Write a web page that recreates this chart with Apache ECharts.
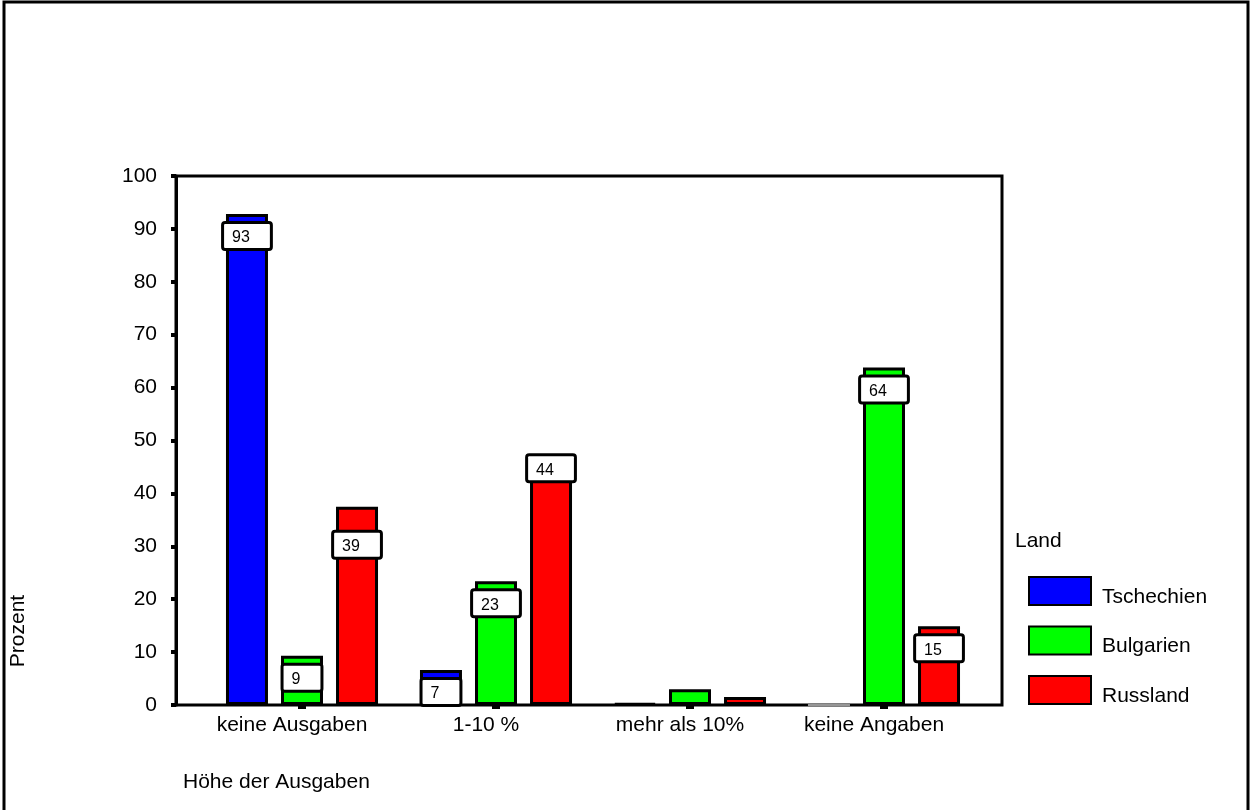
<!DOCTYPE html>
<html>
<head>
<meta charset="utf-8">
<script src="https://cdn.jsdelivr.net/npm/echarts@6/dist/echarts.min.js"></script>
<style>
  html, body { margin: 0; padding: 0; background: #fff; }
  #chart { width: 1250px; height: 810px; }
</style>
</head>
<body>
<div id="chart"></div>
<script>
// Kategorien (Höhe der Ausgaben)
const categories = ["keine Ausgaben", "1-10 %", "mehr als 10%", "keine Angaben"];

// Balkenhöhen in Prozent
const tschechien = [92.8, 6.6, 0.3, 0];
const bulgarien = [9.3, 23.4, 3.0, 63.8];
const russland = [37.5, 44, 1.5, 14.9];

// beschriftete Werte (null = keine Beschriftung)
const tschechienLabels = ["93", "7", null, null];
const bulgarienLabels = ["9", "23", null, "64"];
const russlandLabels = ["39", "44", null, "15"];

const yTicks = [0, 10, 20, 30, 40, 50, 60, 70, 80, 90, 100];

const FONT = 'Arial, "Liberation Sans", sans-serif';

// einzelne Beschriftungen sitzen im Original etwas versetzt
const labelNudge = { "Russland-0": [0, 16], "Russland-1": [0, -26] };

const chart = echarts.init(document.getElementById("chart"), null, { renderer: "canvas" });

const makeSeries = (name, color, values, labels) => ({
  name: name,
  type: "bar",
  xAxisIndex: 1,
  yAxisIndex: 1,
  barWidth: 42,
  barGap: "31%",
  itemStyle: { color: color, borderColor: "#000", borderWidth: 3 },
  data: values.map((v, i) => {
    const item = { value: v };
    if (labels[i]) {
      item.label = {
        show: true,
        formatter: labels[i],
        offset: labelNudge[name + "-" + i] || [0, 0],
      };
    }
    if (v === 0) {
      item.itemStyle = { borderColor: "#c8c8c8", borderWidth: 1 };
    }
    return item;
  }),
  label: {
    show: false,
    position: "insideTop",
    distance: 10,
    color: "#000",
    fontFamily: FONT,
    fontSize: 16,
    backgroundColor: "#fff",
    borderColor: "#000",
    borderWidth: 3,
    borderRadius: 1,
    padding: [6, 20, 2, 8],
  },
  emphasis: { disabled: true },
});

const option = {
  animation: false,
  backgroundColor: "#fff",
  textStyle: { fontFamily: FONT },
  grid: [
    {
      // Rahmen des Diagramms mit y-Achse
      left: 176, top: 176, width: 826, height: 529,
      show: true, borderColor: "#000", borderWidth: 3,
      backgroundColor: "transparent",
    },
    {
      // Balkenbereich
      left: 205, top: 176, width: 776, height: 529,
    },
  ],
  xAxis: [
    { gridIndex: 0, type: "value", show: false, min: 0, max: 1 },
    {
      gridIndex: 1,
      type: "category",
      data: categories,
      axisLine: { show: false },
      axisTick: {
        show: true, alignWithLabel: true, length: 4,
        lineStyle: { color: "#000", width: 8 },
      },
      axisLabel: {
        color: "#000", fontSize: 21, fontFamily: FONT, margin: 10,
        interval: 0, padding: [0, 20, 0, 0],
      },
    },
  ],
  yAxis: [
    {
      gridIndex: 0,
      type: "value",
      min: yTicks[0],
      max: yTicks[yTicks.length - 1],
      interval: 10,
      splitLine: { show: false },
      axisLine: { show: true, lineStyle: { color: "#000", width: 3 } },
      axisTick: { show: true, length: 5, lineStyle: { color: "#000", width: 4 } },
      axisLabel: { color: "#000", fontSize: 21, fontFamily: FONT, margin: 19 },
    },
    { gridIndex: 1, type: "value", min: 0, max: 100, show: false },
  ],
  legend: {
    orient: "vertical",
    left: 1028,
    top: 576,
    padding: 0,
    itemWidth: 62,
    itemHeight: 28,
    itemGap: 18,
    icon: "rect",
    selectedMode: false,
    formatter: "{t|{name}}",
    textStyle: {
      color: "#000", fontSize: 21, fontFamily: FONT,
      rich: { t: { fontSize: 21, fontFamily: FONT, color: "#000", padding: [12, 0, 0, 6] } },
    },
    data: ["Tschechien", "Bulgarien", "Russland"],
  },
  graphic: [
    {
      type: "rect",
      silent: true,
      z: -1,
      shape: { x: 4, y: 2, width: 1244, height: 830 },
      style: { fill: "none", stroke: "#000", lineWidth: 3 },
    },
    {
      type: "text",
      silent: true,
      x: 18, y: 631,
      rotation: Math.PI / 2,
      style: {
        text: "Prozent", fill: "#000", font: "21px " + FONT,
        textAlign: "center", textVerticalAlign: "middle",
      },
    },
    {
      type: "text",
      silent: true,
      x: 183, y: 782,
      style: {
        text: "Höhe der Ausgaben", fill: "#000", font: "21px " + FONT,
        textAlign: "left", textVerticalAlign: "middle",
      },
    },
    {
      type: "text",
      silent: true,
      x: 1015, y: 541,
      style: {
        text: "Land", fill: "#000", font: "21px " + FONT,
        textAlign: "left", textVerticalAlign: "middle",
      },
    },
  ],
  series: [
    makeSeries("Tschechien", "#0000ff", tschechien, tschechienLabels),
    makeSeries("Bulgarien", "#00ff00", bulgarien, bulgarienLabels),
    makeSeries("Russland", "#ff0000", russland, russlandLabels),
  ],
};

chart.setOption(option);
</script>
</body>
</html>
